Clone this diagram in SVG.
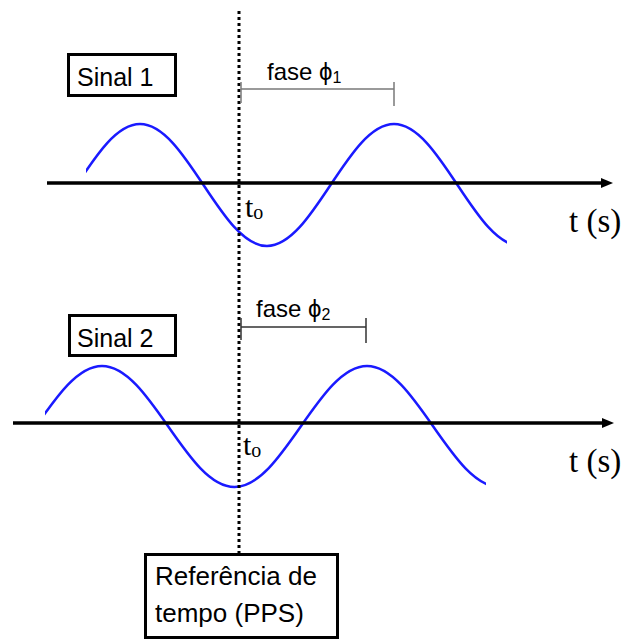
<svg xmlns="http://www.w3.org/2000/svg" width="623" height="639" viewBox="0 0 623 639">
<style>
.box{fill:#fff;stroke:#000;stroke-width:3}
.lbl{font-family:"Liberation Sans",Arial,sans-serif;font-size:25px;fill:#000}
.big{font-size:26px}
.fase{font-family:"Liberation Sans",Arial,sans-serif;font-size:24px;fill:#000}
.tm{font-family:"Liberation Serif","Times New Roman","DejaVu Serif",serif;font-size:30px;fill:#000}
.ts{font-size:33px}
.axis{stroke:#000;stroke-width:3.5;fill:none}
.wave{stroke:#1a1aff;stroke-width:2.5;fill:none}
.dot{stroke:#000;stroke-width:3;stroke-dasharray:3 3;fill:none}
</style>
<defs>
<marker id="arr" markerUnits="userSpaceOnUse" markerWidth="12" markerHeight="10" refX="3" refY="5" orient="auto">
<path d="M0,0 L12,5 L0,10 z" fill="#000"/>
</marker>
<clipPath id="c1"><rect x="86" y="0" width="421" height="300"/></clipPath>
<clipPath id="c2"><rect x="45" y="300" width="441" height="300"/></clipPath>
</defs>
<rect width="623" height="639" fill="#fff"/>
<g id="wave1">
<path class="wave" clip-path="url(#c1)" d="M13,246 C59.2,246 93.8,124 140,124 C186.2,124 220.8,246 267,246 C313.2,246 347.8,124 394,124 C440.2,124 474.8,246 521,246"/>
</g>
<g id="wave2">
<path class="wave" clip-path="url(#c2)" d="M-30.5,487 C17.7,487 53.8,366 102,366 C150.2,366 186.3,487 234.5,487 C282.7,487 318.8,366 367,366 C415.2,366 451.3,487 499.5,487"/>
</g>
<g id="connectors">
<line id="axis1" class="axis" x1="47" y1="183" x2="604" y2="183" marker-end="url(#arr)"/>
<line id="axis2" class="axis" x1="13" y1="423" x2="605" y2="423" marker-end="url(#arr)"/>
<line id="pps-line" class="dot" x1="239" y1="11" x2="239" y2="553"/>
<path id="phase1" d="M241,89 H394 M394,82 V106 M241,82 V103" stroke="#7a7a7a" stroke-width="1.5" fill="none"/>
<path id="phase2" d="M241,327 H366 M366,318 V343 M241,318 V340" stroke="#333" stroke-width="1.5" fill="none"/>
</g>
<g id="sinal1">
<rect class="box" x="68.5" y="54.5" width="107" height="41"/>
<text class="lbl" x="77" y="86">Sinal 1</text>
</g>
<g id="sinal2">
<rect class="box" x="69.5" y="315.5" width="106" height="40"/>
<text class="lbl" x="77" y="347">Sinal 2</text>
</g>
<g id="referencia">
<rect class="box" x="145.5" y="554.5" width="192" height="83" stroke-width="2.5"/>
<text class="lbl big" x="155" y="585">Referência de</text>
<text class="lbl big" x="155" y="622">tempo (PPS)</text>
</g>
<g id="labels">
<text class="fase" x="267" y="80">fase ϕ<tspan font-size="16" dy="3">1</tspan></text>
<text class="fase" x="256" y="317">fase ϕ<tspan font-size="16" dy="3">2</tspan></text>
<text class="tm" x="245" y="217">t<tspan font-size="20" dy="2">o</tspan></text>
<text class="tm" x="243" y="455">t<tspan font-size="20" dy="2">o</tspan></text>
<text class="tm ts" x="569" y="232">t (s)</text>
<text class="tm ts" x="569" y="472">t (s)</text>
</g>
</svg>
